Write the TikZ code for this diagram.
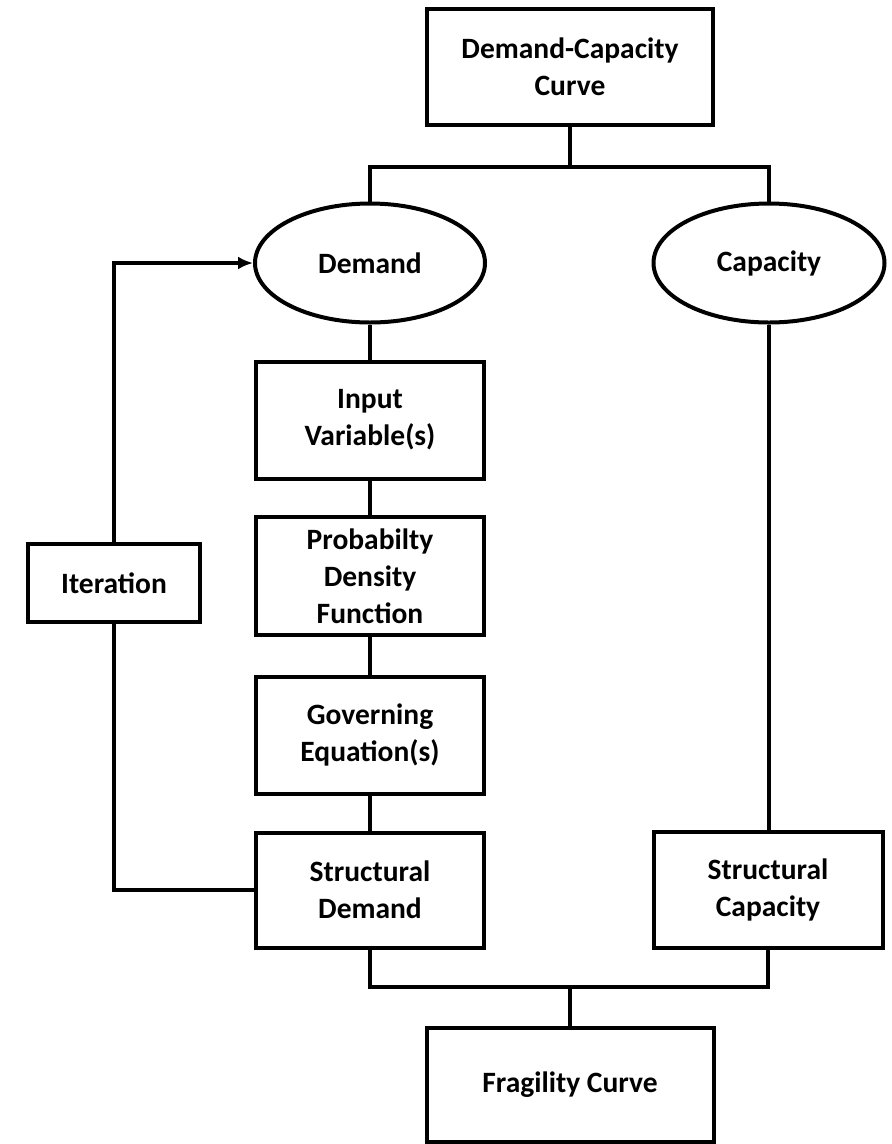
\documentclass[tikz,border=0pt]{standalone}
\usepackage{fontspec}
\setmainfont{Carlito}
\usetikzlibrary{shapes.geometric,arrows.meta}
\begin{document}
\begin{tikzpicture}[x=1pt,y=-1pt,
  every node/.style={font=\fontsize{29.5}{37}\selectfont\bfseries, align=center, inner sep=0pt},
  box/.style={draw, line width=4pt, rectangle},
  oval/.style={draw, line width=4pt, ellipse},
  link/.style={line width=3.6pt},
  arrowlink/.style={line width=3.6pt, -{Latex[length=15pt,width=13pt]}}]
\useasboundingbox (0,0) rectangle (892,1144);
\node[box, minimum width=286pt, minimum height=116pt] (top) at (570,67) {Demand-Capacity\\Curve};
\node[oval, minimum width=230pt, minimum height=119pt] (dem) at (370,263) {Demand};
\node[oval, minimum width=231pt, minimum height=119pt] (cap) at (769,263) {Capacity};
\node[box, minimum width=228pt, minimum height=117pt] (inp) at (370,420) {Input\\Variable(s)};
\node[box, minimum width=228pt, minimum height=118pt] (pdf) at (370,576) {Probabilty\\Density\\Function};
\node[box, minimum width=228pt, minimum height=117pt] (gov) at (370,735) {Governing\\Equation(s)};
\node[box, minimum width=228pt, minimum height=115pt] (sd) at (370,890) {Structural\\Demand};
\node[box, minimum width=229pt, minimum height=116pt] (sc) at (768,890) {Structural\\Capacity};
\node[box, minimum width=172pt, minimum height=78pt] (it) at (114,583) {Iteration};
\node[box, minimum width=287pt, minimum height=114pt] (frag) at (570,1085) {Fragility Curve};
\coordinate (jt) at (570,167);
\coordinate (jb) at (570,987);
\draw[link] (top.south) -- (jt);
\draw[link] (dem.north) -- (dem.north |- jt) -- (cap.north |- jt) -- (cap.north);
\draw[link] (dem.south) -- (inp.north);
\draw[link] (inp.south) -- (pdf.north);
\draw[link] (pdf.south) -- (gov.north);
\draw[link] (gov.south) -- (sd.north);
\draw[link] (cap.south) -- (cap.south |- sc.north);
\draw[link] (sd.south) -- (sd.south |- jb) -- (sc.south |- jb) -- (sc.south);
\draw[link] (jb) -- (frag.north);
\draw[link] (sd.west) -| (it.south);
\draw[arrowlink] (it.north) |- (dem.west);
\end{tikzpicture}
\end{document}
